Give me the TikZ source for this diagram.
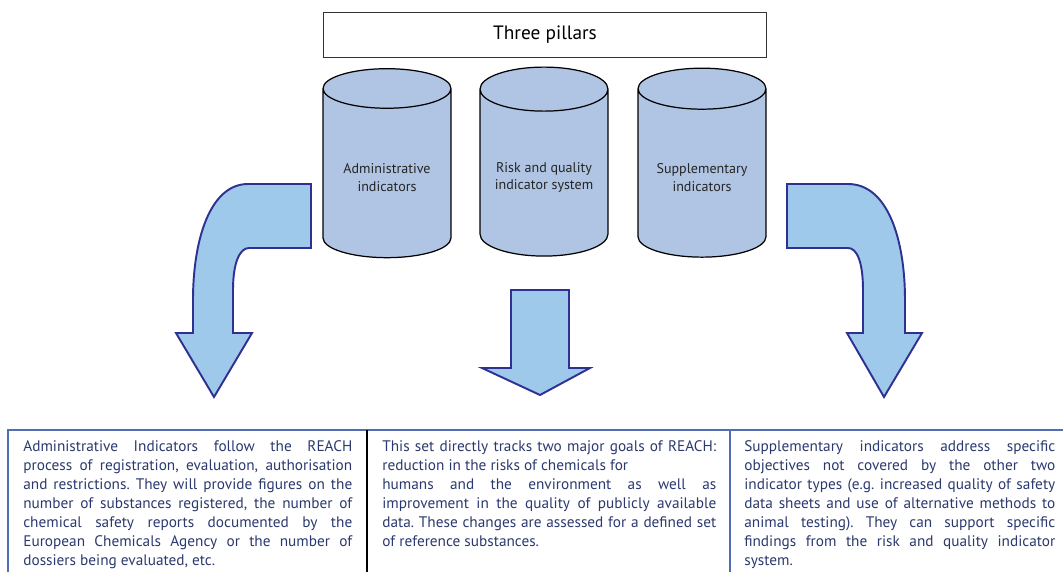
\documentclass[tikz,border=0pt]{standalone}
\usepackage{fontspec}
\setmainfont{PT Sans}
\usetikzlibrary{shapes.geometric}

\definecolor{pillarfill}{RGB}{176,196,227}
\definecolor{arrowfill}{RGB}{158,201,235}
\definecolor{arrowline}{RGB}{46,49,146}
\definecolor{boxline}{RGB}{80,110,180}
\definecolor{boxtext}{RGB}{43,57,110}

\tikzset{
  pillar/.style={cylinder, shape border rotate=90, draw=black, line width=0.7pt,
    fill=pillarfill, aspect=0.4, minimum width=2.56cm, minimum height=3.78cm,
    align=center, text=black!85, font=\fontsize{8}{9.8}\selectfont},
  bigarrow/.style={draw=arrowline, fill=arrowfill, line width=1.1pt},
  infotext/.style={anchor=north west, align=justify, text=boxtext, inner sep=0pt,
    font=\fontsize{8.7}{10.8}\selectfont\frenchspacing},
}

\begin{document}
\begin{tikzpicture}[x=0.02cm,y=-0.02cm]
\useasboundingbox (0,0) rectangle (1063,572);
\clip (0,0) rectangle (1063,572);

\node[draw=black!80, line width=0.6pt, minimum width=8.88cm, minimum height=0.9cm,
  font=\fontsize{11}{13}\selectfont] (title) at (545,35) {Three pillars};

\node[pillar] (admin) at (387,177.5) {Administrative\\indicators};
\node[pillar] (risk) at (544,177.5) {Risk and quality\\indicator system};
\node[pillar] (suppl) at (702,177.5) {Supplementary\\indicators};

\draw[bigarrow] (311,184) -- (248,184) .. controls (210,184) and (193,240) .. (193,300)
  -- (193,333) -- (176,333) -- (214,397) -- (252,333) -- (233,333) -- (233,290)
  .. controls (233,262) and (240,248) .. (249,248) -- (311,248) -- cycle;
\draw[bigarrow] (511,290) -- (569,290) -- (569,368) -- (590,368) -- (540,395)
  -- (482,368) -- (511,368) -- cycle;
\draw[bigarrow] (787,184) -- (848,184) .. controls (888,184) and (905,240) .. (905,300)
  -- (905,333) -- (922,333) -- (884,397) -- (847,333) -- (863,333) -- (863,290)
  .. controls (863,262) and (857,248) .. (848,248) -- (787,248) -- cycle;

\draw[boxline, line width=1.1pt] (8,430) rectangle (367,600);
\draw[boxline, line width=1.1pt] (367,430) rectangle (730,600);
\draw[boxline, line width=1.1pt] (730,430) rectangle (1080,600);
\draw[black, line width=1.4pt] (367,430) -- (367,600);

\node[infotext, text width=6.58cm] (admintext) at (23,440) {Administrative Indicators follow the REACH\linebreak
process of registration, evaluation, authorisation\linebreak
and restrictions. They will provide figures on the\linebreak
number of substances registered, the number of\linebreak
chemical safety reports documented by the\linebreak
European Chemicals Agency or the number of\linebreak
dossiers being evaluated, etc.};
\node[infotext, text width=6.68cm] (risktext) at (382,440) {This set directly tracks two major goals of REACH:\linebreak
reduction in the risks of chemicals for\newline
humans and the environment as well as\linebreak
improvement in the quality of publicly available\linebreak
data. These changes are assessed for a defined set\linebreak
of reference substances.};
\node[infotext, text width=6.22cm] (suppltext) at (744,440) {Supplementary indicators address specific\linebreak
objectives not covered by the other two\linebreak
indicator types (e.g. increased quality of safety\linebreak
data sheets and use of alternative methods to\linebreak
animal testing). They can support specific\linebreak
findings from the risk and quality indicator\linebreak
system.};
\end{tikzpicture}
\end{document}
